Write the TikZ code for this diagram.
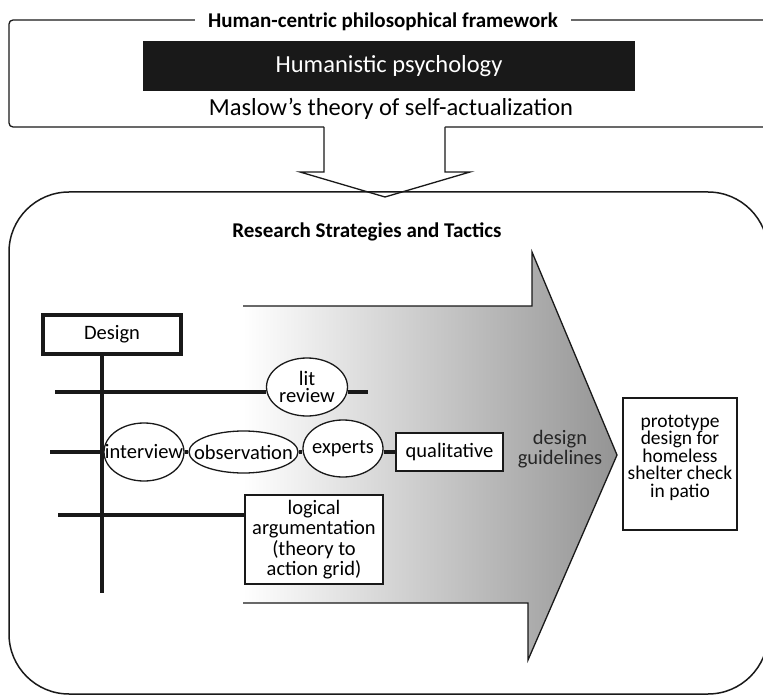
\documentclass[tikz,border=0pt]{standalone}
\usepackage{fontspec}
\setmainfont{Carlito}
\usepackage{xcolor}
\usetikzlibrary{shapes.geometric, positioning, calc}

\begin{document}
\begin{tikzpicture}[x=1pt, y=-1pt,
  frame/.style={draw=black!90, line width=1.3pt},
  hd/.style={font=\bfseries\fontsize{21}{24}\selectfont},
  lbl/.style={font=\fontsize{20.5}{20.5}\selectfont},
  oval/.style={ellipse, draw=black!90, line width=1.3pt, fill=white,
    inner sep=0pt, align=center, font=\fontsize{20.5}{17.5}\selectfont},
  tbox/.style={rectangle, draw=black!90, line width=1.5pt, fill=white,
    inner sep=0pt, align=center, font=\fontsize{20.5}{20.3}\selectfont},
  bar/.style={draw=black!90, line width=3.3pt},
  stem/.style={draw=black!90, line width=4.3pt}
]
\useasboundingbox (0,0) rectangle (763,695);

%% Framework box (top)
\draw[frame, rounded corners=4pt] (9,20) rectangle (772,127);
\node[hd, fill=white, inner xsep=13pt, inner ysep=1pt] (fwtitle) at (383,22)
  {Human-centric philosophical framework};
\node[fill=black!90, text=white, minimum width=492pt, minimum height=50pt,
  font=\fontsize{24.5}{28}\selectfont] (humpsy) at (389,66) {Humanistic psychology};
\node[font=\fontsize{24.5}{28}\selectfont] (maslow) at (391,109)
  {Maslow’s theory of self-actualization};

%% Down arrow into the strategies box
\fill[white] (324,125) -- (324,172) -- (300,172) -- (385,197) -- (470,172) -- (445,172) -- (445,125) -- cycle;
\draw[frame] (324,127) -- (324,172) -- (300,172) -- (385,197) -- (470,172) -- (445,172) -- (445,127);

%% Strategies box (bottom)
\draw[frame, line width=1.5pt, rounded corners=60pt] (9,192) rectangle (768,694);
\node[hd] (rstitle) at (367,232) {Research Strategies and Tactics};

%% Big shaded arrow
\shade[left color=white, right color=black!42]
  (243,306) -- (532,306) -- (532,252) -- (617,455) -- (528,660) -- (528,603) -- (243,603) -- cycle;
\draw[frame] (243,306) -- (532,306) -- (532,252) -- (617,455) -- (528,660) -- (528,603) -- (243,603);

%% Design tree
\node[tbox, line width=3.3pt, minimum width=138pt, minimum height=39pt] (design) at (112,334.5) {Design};
\coordinate (vbot) at (102,593);
\coordinate (h1w) at (55,392);
\coordinate (h1e) at (368,392);
\coordinate (h2w) at (50,452);
\coordinate (h3w) at (58,515);

\node[oval, minimum width=81pt, minimum height=58pt] (litrev) at (307,387) {lit\\review};
\node[oval, minimum width=80pt, minimum height=58pt] (interview) at (144,452) {\makebox[0pt]{interview}};
\node[oval, minimum width=109pt, minimum height=42pt] (observ) at (243.5,452) {\makebox[0pt]{observation}};
\node[oval, minimum width=80pt, minimum height=57pt] (experts) at (343,448.5) {\makebox[0pt]{experts}};
\node[tbox, minimum width=107pt, minimum height=38pt] (qual) at (449.5,452) {qualitative};
\node[tbox, minimum width=138pt, minimum height=89pt] (logic) at (314,539.5)
  {logical\\argumentation\\(theory to\\action grid)};

\draw[stem] (design.south -| vbot) -- (vbot);
\draw[bar] (h1w) -- (h1w -| litrev.west);
\draw[bar] (h1e -| litrev.east) -- (h1e);
\draw[bar] (h2w) -- (interview);
\draw[bar] (interview) -- (observ);
\draw[bar] (observ) -- (experts.west |- observ.east);
\draw[bar] (qual.west -| experts.east) -- (qual.west);
\draw[bar] (h3w) -- (h3w -| logic.west);

%% Outcome
\node[lbl, align=center, text=black!85] (guide) at (560,449) {design\\guidelines};
\node[tbox, minimum width=114pt, minimum height=132pt] (proto) at (680,464)
  {\parbox[c][98pt][t]{110pt}{\centering\fontsize{19.5}{17.5}\selectfont
   prototype\\design for\\homeless\\shelter check\\in patio}};

\end{tikzpicture}
\end{document}
